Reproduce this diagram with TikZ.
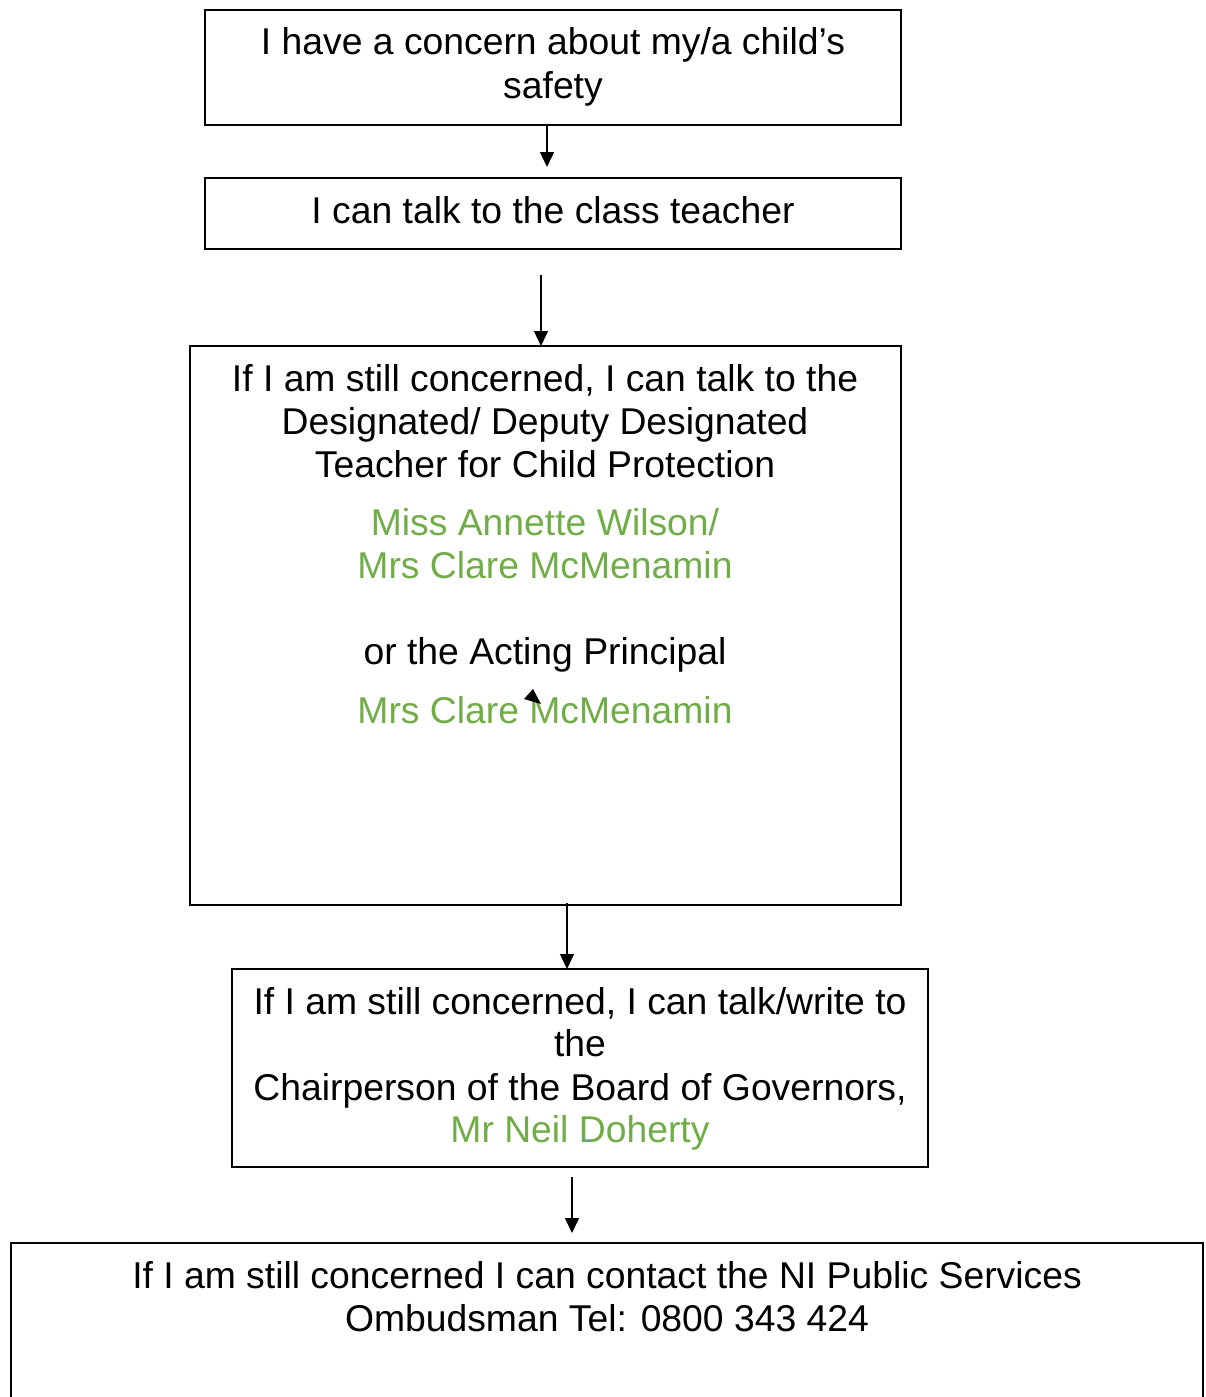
\documentclass[tikz,border=0pt]{standalone}
\usepackage{fontspec}
\setmainfont{Liberation Sans}
\usetikzlibrary{arrows.meta}
\definecolor{grn}{RGB}{112,173,71}
\begin{document}
\begin{tikzpicture}[x=1pt,y=-1pt,
  boxst/.style={draw=black,line width=1.5pt},
  txt/.style={anchor=base,inner sep=0pt,font=\fontsize{37.3}{43}\selectfont},
  gtxt/.style={txt,text=grn},
  arr/.style={line width=1.4pt,-{Triangle[length=15pt,width=14pt]}}]
\clip (0,0) rectangle (1205,1397);
\useasboundingbox (0,0) rectangle (1205,1397);
% boxes
\draw[boxst] (205,10) rectangle (901,125);
\coordinate (b1s) at (547,125);
\coordinate (a1e) at (547,167);
\draw[boxst] (205,178) rectangle (901,249);
\coordinate (b2s) at (541,275);
\draw[boxst] (190,346) rectangle (901,905);
\coordinate (b3n) at (541,346);
\coordinate (b3s) at (567,903);
\draw[boxst] (232,969) rectangle (928,1167);
\coordinate (b4n) at (567,969);
\coordinate (b4s) at (572,1177);
\coordinate (a4e) at (572,1233);
\draw[boxst] (11,1420) -- (11,1243) -- (1203,1243) -- (1203,1420);
% texts
\node[txt] (t1a) at (553,55) {I have a concern about my/a child’s};
\node[txt] (t1b) at (553,98) {safety};
\node[txt] (t2) at (553,223) {I can talk to the class teacher};
\node[txt] (t3a) at (545,391) {If I am still concerned, I can talk to the};
\node[txt] (t3b) at (545,434) {Designated/ Deputy Designated};
\node[txt] (t3c) at (545,477) {Teacher for Child Protection};
\node[gtxt] (t3d) at (545,535) {Miss Annette Wilson/};
\node[gtxt] (t3e) at (545,578) {Mrs Clare McMenamin};
\node[txt] (t3f) at (545,664) {or the Acting Principal};
\node[gtxt] (t3g) at (545,723) {Mrs Clare McMenamin};
\node[txt] (t4a) at (580,1014) {If I am still concerned, I can talk/write to};
\node[txt] (t4b) at (580,1056) {the};
\node[txt] (t4c) at (580,1100) {Chairperson of the Board of Governors,};
\node[gtxt] (t4d) at (580,1142) {Mr Neil Doherty};
\node[txt] (t5a) at (607,1288) {If I am still concerned I can contact the NI Public Services};
\node[txt] (t5b) at (607,1331) {Ombudsman Tel: 0800 343 424};
% connectors
\draw[arr] (b1s) -- (a1e);
\draw[arr] (b2s) -- (b3n);
\draw[arr] (b3s) -- (b4n);
\draw[arr] (b4s) -- (a4e);
% stray arrowhead
\fill (533,689) -- (524,699) -- (541,704) -- cycle;
\end{tikzpicture}
\end{document}
